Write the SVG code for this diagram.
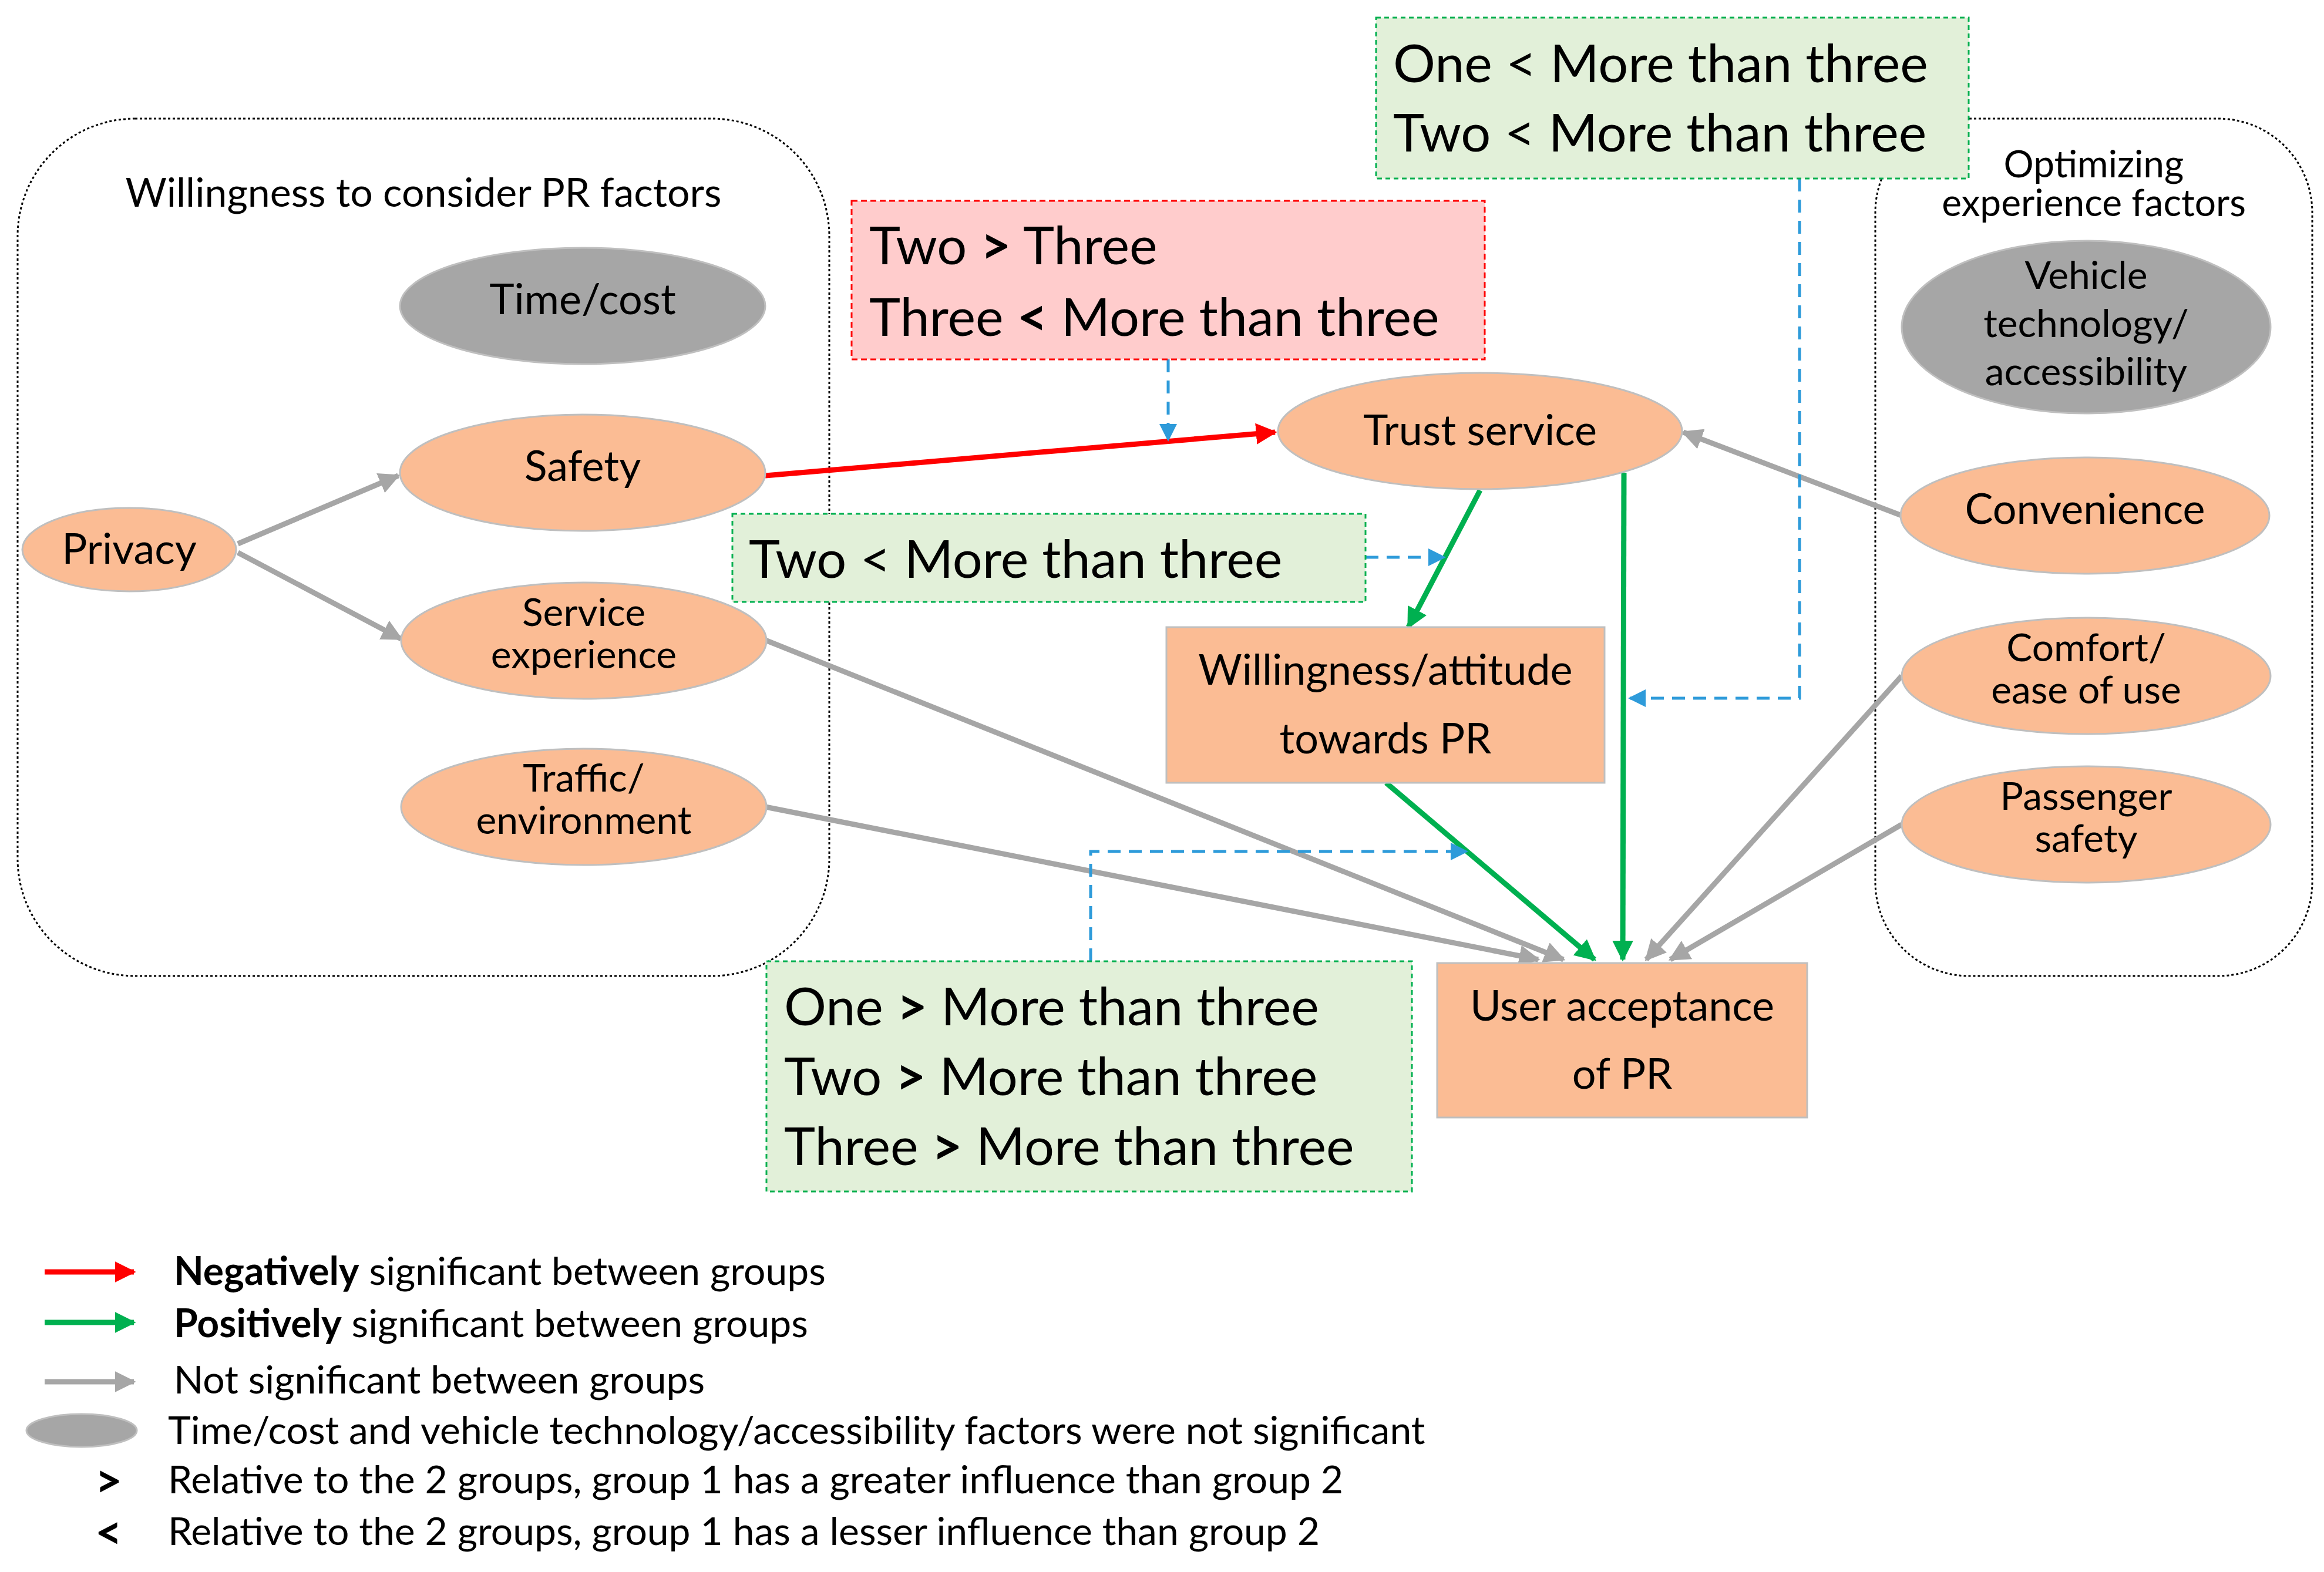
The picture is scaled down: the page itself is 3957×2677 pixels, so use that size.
<svg xmlns="http://www.w3.org/2000/svg" width="3957" height="2677" viewBox="0 0 3957 2677">
<defs>
<style>
text{font-family:Lato,"Open Sans",sans-serif;fill:#000}
.n{font-size:72px;text-anchor:middle}
.m{font-size:66px;text-anchor:middle}
.b{font-size:90px}
.l{font-size:66px}
.o{fill:#FBBC94;stroke:#BFBFBF;stroke-width:3}
.g{fill:#A6A6A6;stroke:#BFBFBF;stroke-width:3}
.gr{stroke:#A6A6A6;stroke-width:9;fill:none}
.gn{stroke:#00B050;stroke-width:9;fill:none}
.rd{stroke:#FF0000;stroke-width:9;fill:none}
.bl{stroke:#2E9BDA;stroke-width:5;stroke-dasharray:22 14;fill:none}
</style>
<marker id="ag" viewBox="0 0 10 10" refX="9" refY="5" markerWidth="4" markerHeight="4" orient="auto"><path d="M0,0L10,5L0,10z" fill="#A6A6A6"/></marker>
<marker id="an" viewBox="0 0 10 10" refX="9" refY="5" markerWidth="4" markerHeight="4" orient="auto"><path d="M0,0L10,5L0,10z" fill="#00B050"/></marker>
<marker id="ar" viewBox="0 0 10 10" refX="9" refY="5" markerWidth="4" markerHeight="4" orient="auto"><path d="M0,0L10,5L0,10z" fill="#FF0000"/></marker>
<marker id="ab" viewBox="0 0 10 10" refX="9" refY="5" markerWidth="6" markerHeight="6" orient="auto"><path d="M0,0L10,5L0,10z" fill="#2E9BDA"/></marker>
</defs>
<rect width="3957" height="2677" fill="#fff"/>
<g id="grp-left"><rect x="30" y="202" width="1382" height="1460" rx="200" fill="none" stroke="#000" stroke-width="3" stroke-dasharray="4 4"/><text x="721" y="352" text-anchor="middle" font-size="68">Willingness to consider PR factors</text></g>
<g id="grp-right"><rect x="3193" y="202" width="744" height="1460" rx="160" fill="none" stroke="#000" stroke-width="3" stroke-dasharray="4 4"/><text x="3565" y="302" text-anchor="middle" font-size="64">Optimizing</text><text x="3565" y="368" text-anchor="middle" font-size="64">experience factors</text></g>
<g id="conn">
<line class="gr" x1="405" y1="926" x2="678" y2="810" marker-end="url(#ag)"/>
<line class="gr" x1="405" y1="941" x2="683" y2="1088" marker-end="url(#ag)"/>
<line class="rd" x1="1303" y1="810" x2="2171" y2="736" marker-end="url(#ar)"/>
<line class="gn" x1="2520" y1="835" x2="2398" y2="1068" marker-end="url(#an)"/>
<line class="gn" x1="2765" y1="805" x2="2763" y2="1634" marker-end="url(#an)"/>
<line class="gn" x1="2360" y1="1333" x2="2715" y2="1634" marker-end="url(#an)"/>
<line class="gr" x1="1303" y1="1090" x2="2662" y2="1634" marker-end="url(#ag)"/>
<line class="gr" x1="1303" y1="1374" x2="2619" y2="1634" marker-end="url(#ag)"/>
<line class="gr" x1="3238" y1="878" x2="2866" y2="736" marker-end="url(#ag)"/>
<line class="gr" x1="3238" y1="1151" x2="2803" y2="1634" marker-end="url(#ag)"/>
<line class="gr" x1="3238" y1="1404" x2="2844" y2="1634" marker-end="url(#ag)"/>
<polyline class="bl" points="1989,612 1989,749" marker-end="url(#ab)"/>
<polyline class="bl" points="2325,949 2459,949" marker-end="url(#ab)"/>
<polyline class="bl" points="3064,304 3064,1189 2775,1189" marker-end="url(#ab)"/>
<polyline class="bl" points="1857,1637 1857,1450 2497,1450" marker-end="url(#ab)"/>
</g>
<g id="timecost"><ellipse class="g" cx="992" cy="521" rx="311" ry="99"/><text class="n" x="992" y="535">Time/cost</text></g>
<g id="safety"><ellipse class="o" cx="992" cy="805" rx="311" ry="99"/><text class="n" x="992" y="819">Safety</text></g>
<g id="privacy"><ellipse class="o" cx="220" cy="936" rx="182" ry="71"/><text class="n" x="220" y="960">Privacy</text></g>
<g id="service"><ellipse class="o" cx="994" cy="1091" rx="311" ry="99"/><text class="m" x="994" y="1066">Service</text><text class="m" x="994" y="1138">experience</text></g>
<g id="traffic"><ellipse class="o" cx="994" cy="1374" rx="311" ry="99"/><text class="m" x="994" y="1348">Traffic/</text><text class="m" x="994" y="1420">environment</text></g>
<g id="trust"><ellipse class="o" cx="2520" cy="734" rx="344" ry="99"/><text class="n" x="2520" y="758">Trust service</text></g>
<g id="willing"><rect class="o" x="1986" y="1068" width="746" height="265"/><text class="n" x="2359" y="1166">Willingness/attitude</text><text class="n" x="2359" y="1283">towards PR</text></g>
<g id="user"><rect class="o" x="2447" y="1640" width="630" height="263"/><text class="n" x="2762" y="1738">User acceptance</text><text class="n" x="2762" y="1854">of PR</text></g>
<g id="vehicle"><ellipse class="g" cx="3552" cy="557" rx="314" ry="147"/><text class="m" x="3552" y="492">Vehicle</text><text class="m" x="3552" y="574">technology/</text><text class="m" x="3552" y="656">accessibility</text></g>
<g id="convenience"><ellipse class="o" cx="3550" cy="878" rx="314" ry="99"/><text class="n" x="3550" y="892">Convenience</text></g>
<g id="comfort"><ellipse class="o" cx="3552" cy="1151" rx="314" ry="99"/><text class="m" x="3552" y="1126">Comfort/</text><text class="m" x="3552" y="1198">ease of use</text></g>
<g id="passenger"><ellipse class="o" cx="3552" cy="1404" rx="314" ry="99"/><text class="m" x="3552" y="1379">Passenger</text><text class="m" x="3552" y="1451">safety</text></g>
<g id="box-top"><rect x="2343" y="30" width="1009" height="274" fill="#E2F0D9" stroke="#00B050" stroke-width="3" stroke-dasharray="8 6"/><text class="b" x="2372" y="140">One &lt; More than three</text><text class="b" x="2372" y="258">Two &lt; More than three</text></g>
<g id="box-red"><rect x="1450" y="342" width="1078" height="270" fill="#FFCCCC" stroke="#FF0000" stroke-width="3" stroke-dasharray="10 6"/><text class="b" x="1480" y="450">Two <tspan font-weight="bold">&gt;</tspan> Three</text><text class="b" x="1480" y="572">Three <tspan font-weight="bold">&lt;</tspan> More than three</text></g>
<g id="box-mid"><rect x="1247" y="875" width="1078" height="150" fill="#E2F0D9" stroke="#00B050" stroke-width="3" stroke-dasharray="8 6"/><text class="b" x="1275" y="984">Two &lt; More than three</text></g>
<g id="box-bottom"><rect x="1305" y="1637" width="1099" height="392" fill="#E2F0D9" stroke="#00B050" stroke-width="3" stroke-dasharray="8 6"/><text class="b" x="1335" y="1746">One <tspan font-weight="bold">&gt;</tspan> More than three</text><text class="b" x="1335" y="1865">Two <tspan font-weight="bold">&gt;</tspan> More than three</text><text class="b" x="1335" y="1984">Three <tspan font-weight="bold">&gt;</tspan> More than three</text></g>
<g id="legend">
<line class="rd" x1="76" y1="2166" x2="228" y2="2166" marker-end="url(#ar)"/>
<text class="l" x="296" y="2188"><tspan font-weight="bold">Negatively</tspan> significant between groups</text>
<line class="gn" x1="76" y1="2252" x2="228" y2="2252" marker-end="url(#an)"/>
<text class="l" x="296" y="2277"><tspan font-weight="bold">Positively</tspan> significant between groups</text>
<line class="gr" x1="76" y1="2353" x2="228" y2="2353" marker-end="url(#ag)"/>
<text class="l" x="296" y="2373">Not significant between groups</text>
<ellipse class="g" cx="139" cy="2436" rx="94" ry="28"/>
<text class="l" x="286" y="2459">Time/cost and vehicle technology/accessibility factors were not significant</text>
<text x="185" y="2550" font-size="80" font-weight="bold" text-anchor="middle">&gt;</text>
<text class="l" x="286" y="2543">Relative to the 2 groups, group 1 has a greater influence than group 2</text>
<text x="185" y="2638" font-size="80" font-weight="bold" text-anchor="middle">&lt;</text>
<text class="l" x="286" y="2631">Relative to the 2 groups, group 1 has a lesser influence than group 2</text>
</g>
</svg>
